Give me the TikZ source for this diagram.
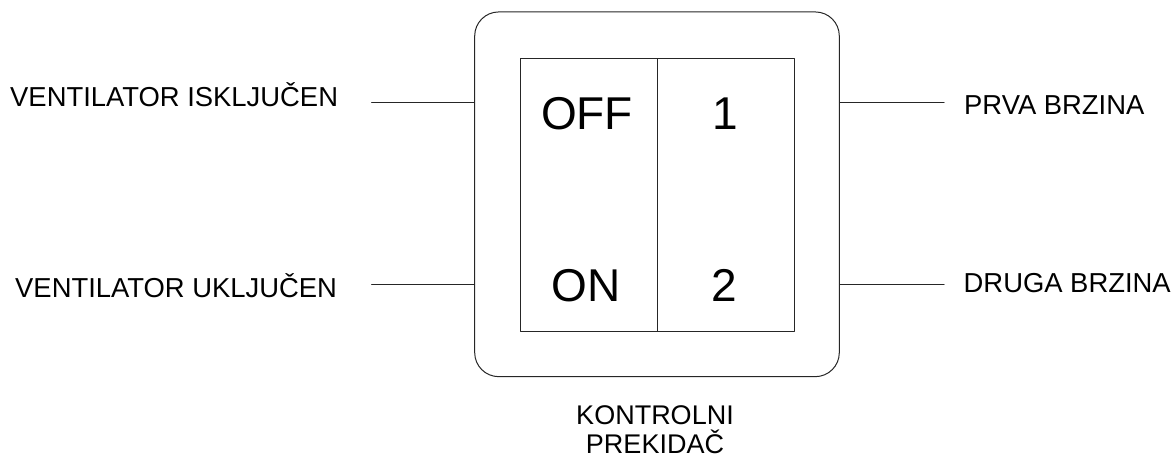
\documentclass[tikz,border=0pt]{standalone}
\usepackage{fontspec}
\setmainfont{Liberation Sans}
\usetikzlibrary{positioning}

\begin{document}
\begin{tikzpicture}[line cap=round,line join=round,x=1pt,y=-1pt,
  wire/.style={line width=1pt,color=black!85},
  lbl/.style={inner sep=0pt,font=\fontsize{27.4}{29}\selectfont},
  namelbl/.style={inner sep=0pt,font=\fontsize{27}{29}\selectfont},
  big/.style={inner sep=0pt,font=\fontsize{46}{50}\selectfont}]
\useasboundingbox (0,0) rectangle (1173,462);
% switch body and the two rocker halves
\node [wire,draw,rounded corners=24pt,minimum width=364.6pt,minimum height=364.7pt] (body) at (657,194.3) {};
\node [wire,draw,minimum width=137.3pt,minimum height=273.6pt,anchor=north west] (cellL) at (520,57.7) {};
\node [wire,draw,minimum width=136.4pt,minimum height=273.6pt,anchor=north west] (cellR) at (657.3,57.7) {};
% positions on the rockers
\node [big,anchor=base] (off) at (587,129.3) {OFF};
\node [big,anchor=base] (on) at (586,301.7) {ON};
\node [big,anchor=base] (one) at (725.3,129.3) {1};
\node [big,anchor=base] (two) at (724.5,301.7) {2};
% leader lines
\coordinate (a1) at (371.7,103);
\coordinate (a2) at (371.7,285);
\coordinate (b1) at (944,103);
\coordinate (b2) at (944,285);
\draw [wire] (a1) -- (a1 -| body.west);
\draw [wire] (a2) -- (a2 -| body.west);
\draw [wire] (body.east |- b1) -- (b1);
\draw [wire] (body.east |- b2) -- (b2);
% labels
\node [lbl,anchor=base west] (isk) at (10,106.5) {VENTILATOR ISKLJUČEN};
\node [lbl,anchor=base west] (ukl) at (15,297.7) {VENTILATOR UKLJUČEN};
\node [lbl,anchor=base west] (prva) at (964,115) {PRVA BRZINA};
\node [lbl,anchor=base west] (druga) at (963.5,292.3) {DRUGA BRZINA};
\node [namelbl,align=center,anchor=north] (name) at (655,405.5) {KONTROLNI\\PREKIDAČ};
\end{tikzpicture}
\end{document}
